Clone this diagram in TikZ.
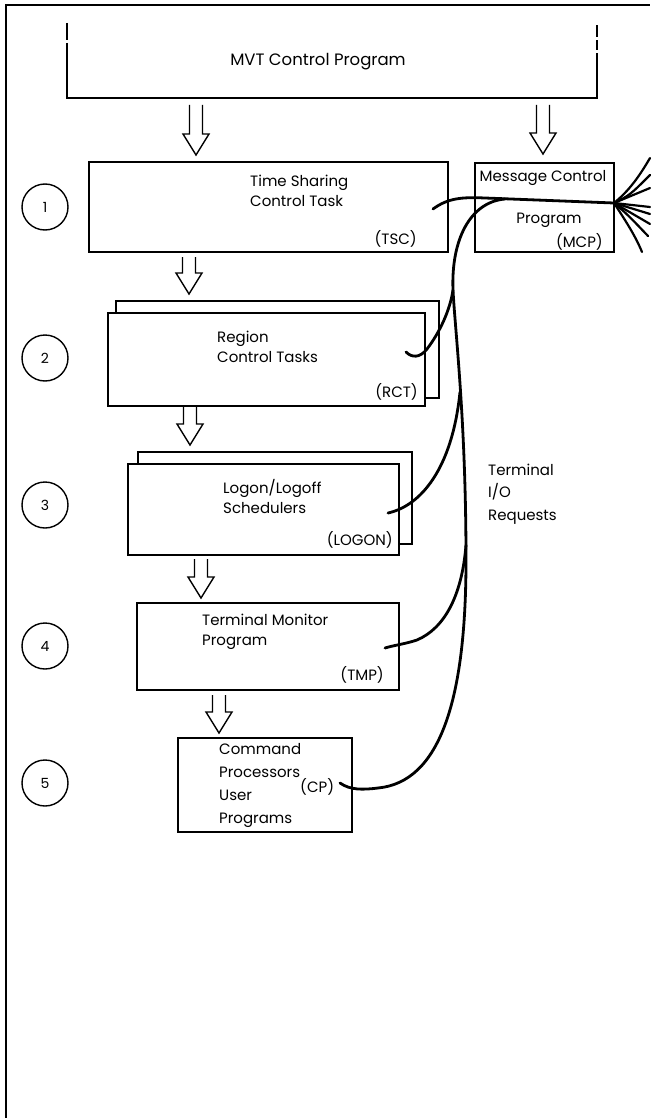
\documentclass[tikz,border=0pt]{standalone}
\usepackage{fontspec}
\setmainfont{Poppins}
\usetikzlibrary{calc}
\begin{document}
\begin{tikzpicture}[x=1pt,y=-1pt,
  box/.style={draw, line width=1.7pt, fill=white, inner sep=0pt, anchor=north west},
  lbl/.style={font=\fontsize{15}{20}\selectfont, inner sep=0pt, align=left},
  num/.style={draw, circle, line width=1.4pt, minimum size=46pt, inner sep=0pt, font=\fontsize{14}{16}\selectfont},
  wire/.style={line width=2.8pt, line cap=round},
  fan/.style={line width=2.2pt, line cap=round},
  frame/.style={line width=1.2pt},
  hollow/.style={line width=1.4pt, line join=miter, to path={let \p1=(\tikztostart), \p2=(\tikztotarget) in (\x1-6.5pt,\y1) -- (\x1-6.5pt,\y2+21pt) -- (\x1-13pt,\y2+21pt) -- (\x2,\y2) -- (\x1+13pt,\y2+21pt) -- (\x1+6.5pt,\y2+21pt) -- (\x1+6.5pt,\y1)}},
]
\fill[white] (0,0) rectangle (650,1118);
\useasboundingbox (0,0) rectangle (650,1118);
% outer frame
\draw[frame] (6,1118) -- (6,5) -- (650,5);
% MVT control program
\draw[box] (67,23) -- (67,40);
\draw[box] (67,43) -- (67,98) -- (597,98) -- (597,53);
\draw[box] (597,50) -- (597,40);
\draw[box] (597,37) -- (597,25);
\node[lbl, font=\fontsize{16.5}{20}\selectfont] (mvt) at (318,62) {MVT Control Program};
% boxes
\node[box, minimum width=359pt, minimum height=90pt] (tsc) at (88,161) {};
\node[box, minimum width=139pt, minimum height=89pt] (mcp) at (474,162) {};
\node[box, minimum width=323pt, minimum height=97pt] (rctb) at (115,300) {};
\node[box, minimum width=317pt, minimum height=93pt] (rct) at (107,312) {};
\node[box, minimum width=274pt, minimum height=92pt] (logb) at (137,451) {};
\node[box, minimum width=271pt, minimum height=91pt] (log) at (127,463) {};
\node[box, minimum width=262pt, minimum height=87pt] (tmp) at (136,602) {};
\node[box, minimum width=174pt, minimum height=94pt] (cp) at (177,737) {};
% texts
\node[lbl, anchor=west] (tsct) at (250,191) {Time Sharing\\Control Task};
\node[lbl, anchor=east] (tscn) at (417,239) {(TSC)};
\node[lbl] (mcpt1) at (543,178) {Message Control};
\node[lbl] (mcpt2) at (549,220) {Program};
\node[lbl, anchor=east] (mcpn) at (603,242) {(MCP)};
\node[lbl, anchor=west] (rctt) at (217,347) {Region\\Control Tasks};
\node[lbl, anchor=east] (rctn) at (418,392) {(RCT)};
\node[lbl, anchor=west] (logt) at (223,496) {Logon/Logoff\\Schedulers};
\node[lbl, anchor=east] (logn) at (393,540) {(LOGON)};
\node[lbl, anchor=west] (tmpt) at (202,632) {Terminal Monitor\\Program};
\node[lbl, anchor=east] (tmpn) at (384,675) {(TMP)};
\node[lbl, anchor=west, font=\fontsize{15}{23}\selectfont] (cpt) at (219,785) {Command\\Processors\\User\\Programs};
\node[lbl, anchor=west] (cpn) at (300,787) {(CP)};
\node[lbl, anchor=west, font=\fontsize{15}{22.5}\selectfont] (tio) at (488,494) {Terminal\\I/O\\Requests};
% numbers
\node[num] (n1) at (45,207) {1};
\node[num] (n2) at (45,358) {2};
\node[num] (n3) at (45,505) {3};
\node[num] (n4) at (45,646) {4};
\node[num] (n5) at (45,783) {5};
% hollow arrows
\coordinate (a0s) at (196,105); \coordinate (a0e) at (196,155);
\coordinate (a1s) at (543,105); \coordinate (a1e) at (543,154);
\coordinate (a2s) at (189,257); \coordinate (a2e) at (189,294);
\coordinate (a3s) at (190,407); \coordinate (a3e) at (190,445);
\coordinate (a4s) at (201,559); \coordinate (a4e) at (201,598);
\coordinate (a5s) at (219,695); \coordinate (a5e) at (219,733);
\draw[hollow] (a0s) to (a0e);
\draw[hollow] (a1s) to (a1e);
\draw[hollow] (a2s) to (a2e);
\draw[hollow] (a3s) to (a3e);
\draw[hollow] (a4s) to (a4e);
\draw[hollow] (a5s) to (a5e);
% terminal I/O wires
\coordinate (hTSC) at (433,209);
\coordinate (hRCT) at (406,352);
\coordinate (hLOG) at (388,513);
\coordinate (hTMP) at (385,648);
\coordinate (hCP) at (340,783);
\coordinate (mcpR) at (614,203);
\coordinate (jn) at (505,199);
\draw[wire] (hTSC) .. controls (448,198) and (462,197) .. (485,198) -- (mcpR);
\draw[wire] (hCP) .. controls (350,790) and (362,790) .. (378,788) .. controls (440,782) and (466,700) .. (466,560) .. controls (466,420) and (455,330) .. (453,290) .. controls (451,240) and (470,202) .. (jn);
\draw[wire] (hTMP) .. controls (395,645) and (405,644) .. (417,640) .. controls (445,628) and (462,595) .. (466,545);
\draw[wire] (hLOG) .. controls (420,506) and (452,470) .. (460,392);
\draw[wire] (hRCT) .. controls (412,358) and (420,358) .. (427,349) .. controls (440,332) and (450,310) .. (453,290);
% fan to the right
\coordinate (f1) at (650,158);
\coordinate (f2) at (650,175);
\coordinate (f3) at (650,188);
\coordinate (f4) at (650,207);
\coordinate (f5) at (650,214);
\coordinate (f6) at (650,224);
\coordinate (f7) at (648,236);
\coordinate (f8) at (642,252);
\draw[fan] (mcpR) .. controls (630,190) and (640,175) .. (f1);
\draw[fan] (mcpR) .. controls (630,195) .. (f2);
\draw[fan] (mcpR) -- (f3);
\draw[fan] (mcpR) -- (f4);
\draw[fan] (mcpR) -- (f5);
\draw[fan] (mcpR) -- (f6);
\draw[fan] (mcpR) .. controls (628,215) .. (f7);
\draw[fan] (mcpR) .. controls (625,220) and (635,235) .. (f8);
\end{tikzpicture}
\end{document}
